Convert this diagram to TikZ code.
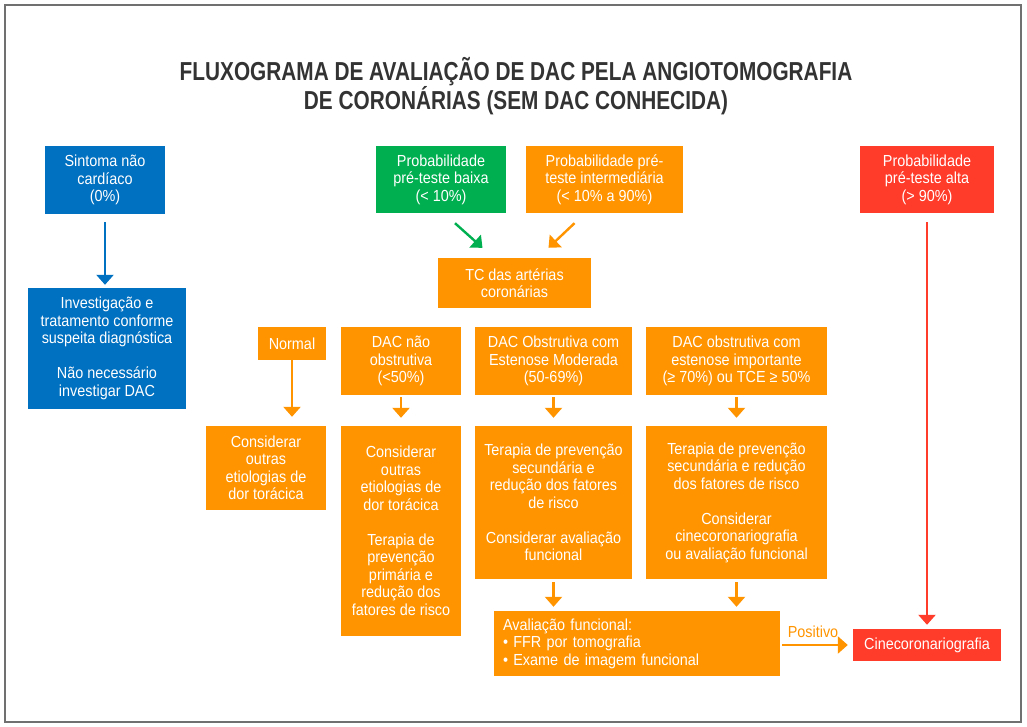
\documentclass[tikz,border=0pt]{standalone}
\usepackage{fontspec}
\setmainfont{Liberation Sans}[FakeStretch=0.9]
\newfontfamily\titlefont{Liberation Sans}[FakeStretch=0.8]
\usetikzlibrary{arrows.meta}
\definecolor{dacblue}{HTML}{0070C0}
\definecolor{dacgreen}{HTML}{00B050}
\definecolor{dacorange}{HTML}{FF9400}
\definecolor{dacred}{HTML}{FF3B2A}
\definecolor{titlegray}{HTML}{333333}
\definecolor{framegray}{HTML}{707070}
\newcommand{\bodysize}{\fontsize{16}{17.5}\selectfont}

\begin{document}
\begin{tikzpicture}[x=1pt, y=-1pt,
  box/.style={inner sep=0pt, align=center, text=white, font=\bodysize},
  bluebox/.style={box, fill=dacblue},
  greenbox/.style={box, fill=dacgreen},
  orangebox/.style={box, fill=dacorange},
  redbox/.style={box, fill=dacred},
  flow/.style={line width=2.4pt, -{Triangle[width=17pt,length=10pt]}}]
  \useasboundingbox (0,0) rectangle (1027,727);
  % frame and title
  \draw[framegray, line width=2pt] (5,5) rectangle (1021,722);
  \node[font=\titlefont\bfseries\fontsize{26}{28}\selectfont, text=titlegray, align=center] (title) at (516,86)
    {FLUXOGRAMA DE AVALIAÇÃO DE DAC PELA ANGIOTOMOGRAFIA\\DE CORONÁRIAS (SEM DAC CONHECIDA)};
  % top row
  \node[bluebox, minimum width=120pt, minimum height=68pt] (sintoma) at (105,180) {Sintoma não\\cardíaco\\(0\%)};
  \node[greenbox, minimum width=130pt, minimum height=67pt] (baixa) at (441,179.5) {Probabilidade\\pré-teste baixa\\(< 10\%)};
  \node[orangebox, minimum width=157pt, minimum height=67pt] (inter) at (604.5,179.5) {Probabilidade pré-\\teste intermediária\\(< 10\% a 90\%)};
  \node[redbox, minimum width=134pt, minimum height=67pt] (alta) at (927,179.5) {Probabilidade\\pré-teste alta\\(> 90\%)};
  % left column
  \node[bluebox, minimum width=158pt, minimum height=121pt] (invest) at (107,348.5)
    {Investigação e\\tratamento conforme\\suspeita diagnóstica\\[17.5pt]Não necessário\\investigar DAC};
  \node[orangebox, minimum width=153pt, minimum height=50pt] (tc) at (514.5,283) {TC das artérias\\coronárias};
  % results
  \node[orangebox, minimum width=68pt, minimum height=33pt] (normal) at (292,343.5) {Normal};
  \node[orangebox, minimum width=120pt, minimum height=68pt] (naoobs) at (401,361) {DAC não\\obstrutiva\\(<50\%)};
  \node[orangebox, minimum width=157pt, minimum height=68pt] (moder) at (553.5,361) {DAC Obstrutiva com\\Estenose Moderada\\(50-69\%)};
  \node[orangebox, minimum width=181pt, minimum height=68pt] (import) at (736.5,361) {DAC obstrutiva com\\estenose importante\\(≥ 70\%) ou TCE ≥ 50\%};
  % conducts
  \node[orangebox, minimum width=120pt, minimum height=84pt] (consnorm) at (266,468) {Considerar\\outras\\etiologias de\\dor torácica};
  \node[orangebox, minimum width=120pt, minimum height=210pt] (consnao) at (401,531)
    {Considerar\\outras\\etiologias de\\dor torácica\\[17.5pt]Terapia de\\prevenção\\primária e\\redução dos\\fatores de risco};
  \node[orangebox, minimum width=157pt, minimum height=153pt] (terapmod) at (553.5,502.5)
    {Terapia de prevenção\\secundária e\\redução dos fatores\\de risco\\[17.5pt]Considerar avaliação\\funcional};
  \node[orangebox, minimum width=181pt, minimum height=153pt] (terapimp) at (736.5,502.5)
    {Terapia de prevenção\\secundária e redução\\dos fatores de risco\\[17.5pt]Considerar\\cinecoronariografia\\ou avaliação funcional};
  % bottom row
  \node[orangebox, align=left, text width=268pt, inner xsep=9pt, minimum height=65pt] (avalfunc) at (637,643.5)
    {Avaliação funcional:\\• FFR por tomografia\\• Exame de imagem funcional};
  \node[redbox, minimum width=148pt, minimum height=32pt] (cine) at (927,645) {Cinecoronariografia};
  \node[text=dacorange, font=\bodysize, inner sep=0pt, anchor=base] (positivo) at (813,637) {Positivo};
  % arrows
  \draw[flow, dacblue, shorten <=8pt, shorten >=3pt] (sintoma.south) -- (sintoma.south |- invest.north);
  \draw[flow, dacgreen] ([xshift=14pt,yshift=-10pt]baixa.south) -- ([xshift=-32pt,yshift=10pt]tc.north);
  \draw[flow, dacorange] ([xshift=-30pt,yshift=-10pt]inter.south) -- ([xshift=34pt,yshift=10pt]tc.north);
  \draw[flow, dacred, shorten <=9pt, shorten >=4pt] (alta.south) -- (alta.south |- cine.north);
  \draw[flow, dacorange, shorten >=9pt] (normal.south) -- (normal.south |- consnorm.north);
  \draw[flow, dacorange, shorten <=2pt, shorten >=8pt] (naoobs.south) -- (consnao.north);
  \draw[flow, dacorange, shorten <=2pt, shorten >=8pt] (moder.south) -- (terapmod.north);
  \draw[flow, dacorange, shorten <=2pt, shorten >=8pt] (import.south) -- (terapimp.north);
  \draw[flow, dacorange, shorten <=3pt, shorten >=4pt] (terapmod.south) -- (terapmod.south |- avalfunc.north);
  \draw[flow, dacorange, shorten <=3pt, shorten >=4pt] (terapimp.south) -- (terapimp.south |- avalfunc.north);
  \draw[flow, dacorange, shorten <=2pt, shorten >=5pt] (avalfunc.east |- cine.west) -- (cine.west);
\end{tikzpicture}
\end{document}
